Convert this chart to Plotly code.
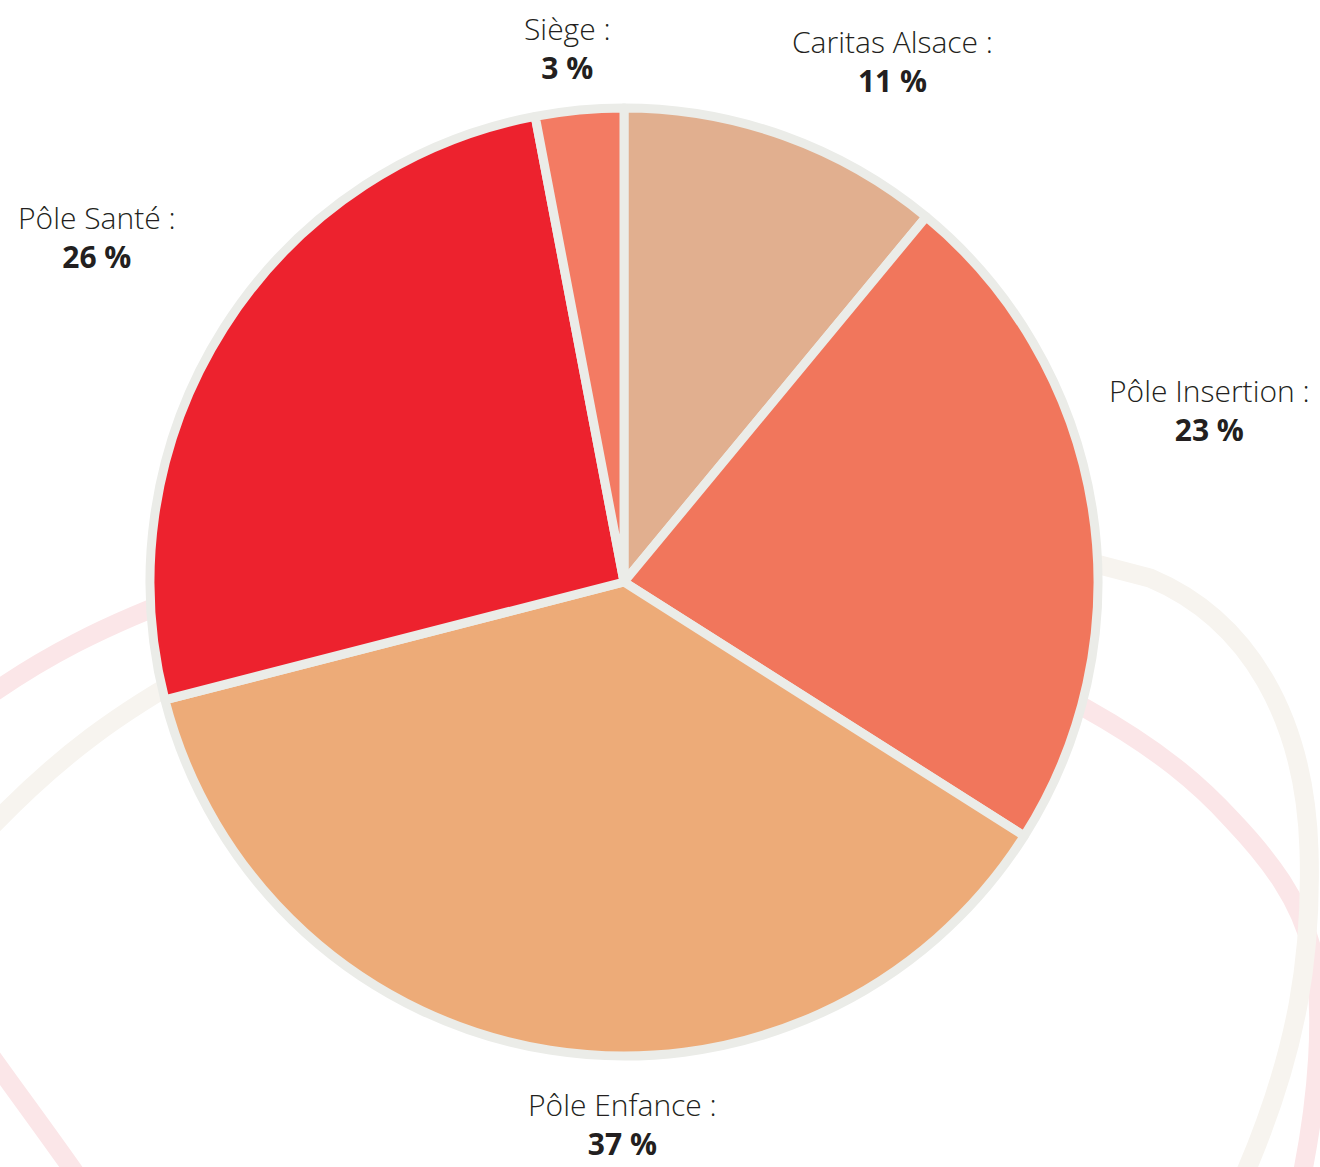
import plotly.graph_objects as go

# ---- data ----
categories = ["Caritas Alsace", "Pôle Insertion", "Pôle Enfance", "Pôle Santé", "Siège"]
values = [11, 23, 37, 26, 3]
colors = ["#E1AF8F", "#F1765C", "#EDAB78", "#ED222E", "#F37B63"]

W, H = 1320, 1167

# label placement (pixel centres), style only
label_pos = {
    "Caritas Alsace": (892, 61),
    "Pôle Insertion": (1209, 410),
    "Pôle Enfance": (622, 1124),
    "Pôle Santé": (97, 237),
    "Siège": (567, 48),
}


def px(x, y):
    return x / W, 1 - y / H


def path(cmds):
    out = []
    for c in cmds:
        op, pts = c[0], c[1:]
        out.append(op + " " + " ".join("%.5f,%.5f" % px(*p) for p in pts))
    return " ".join(out)


fig = go.Figure()

cx, cy, R = 624, 582, 474
fig.add_trace(go.Pie(
    labels=categories,
    values=values,
    marker=dict(colors=colors, line=dict(color="#EBECE8", width=9)),
    sort=False,
    direction="clockwise",
    rotation=0,
    textinfo="none",
    hoverinfo="skip",
    showlegend=False,
    domain=dict(x=[(cx - R) / W, (cx + R) / W], y=[1 - (cy + R) / H, 1 - (cy - R) / H]),
))

# decorative background loops (pink drawn first, beige on top)
beige = "#F7F4EF"
pink = "#FBE6E8"
deco = [
    (pink, [("M", (-10, 695)), ("C", (40, 660), (100, 626), (200, 590), (400, 540), (600, 560))]),
    (pink, [("M", (700, 560)), ("C", (900, 600), (1000, 660), (1085, 708)),
            ("C", (1160, 750), (1200, 785), (1232, 820)),
            ("C", (1270, 860), (1300, 900), (1312, 950)),
            ("C", (1325, 1010), (1318, 1100), (1300, 1185))]),
    (pink, [("M", (-12, 1052)), ("C", (15, 1090), (45, 1130), (80, 1180))]),
    (beige, [("M", (-10, 828)), ("C", (60, 755), (120, 712), (200, 668), (400, 560), (700, 540))]),
    (beige, [("M", (800, 530)), ("C", (950, 540), (1050, 552), (1100, 565)),
             ("L", (1150, 578)),
             ("C", (1250, 620), (1305, 720), (1309, 850)),
             ("C", (1312, 950), (1300, 1050), (1240, 1185))]),
]
shapes = []
for col, cmds in deco:
    shapes.append(dict(type="path", xref="paper", yref="paper", path=path(cmds),
                       line=dict(color=col, width=19), layer="below"))

annotations = []
for cat, v in zip(categories, values):
    x, y = label_pos[cat]
    xp, yp = px(x, y)
    annotations.append(dict(
        x=xp, y=yp, xref="paper", yref="paper", xanchor="center", yanchor="middle",
        text=f"{cat} :<br><b>{v} %</b>", showarrow=False, align="center",
        font=dict(family="Open Sans", size=30, color="#231F20", weight=300),
    ))

fig.update_layout(
    width=W, height=H,
    margin=dict(l=0, r=0, t=0, b=0),
    paper_bgcolor="white", plot_bgcolor="white",
    shapes=shapes, annotations=annotations,
)

fig.write_html("out.html", config={"displayModeBar": False},
               post_script="document.body.style.margin='0';")
